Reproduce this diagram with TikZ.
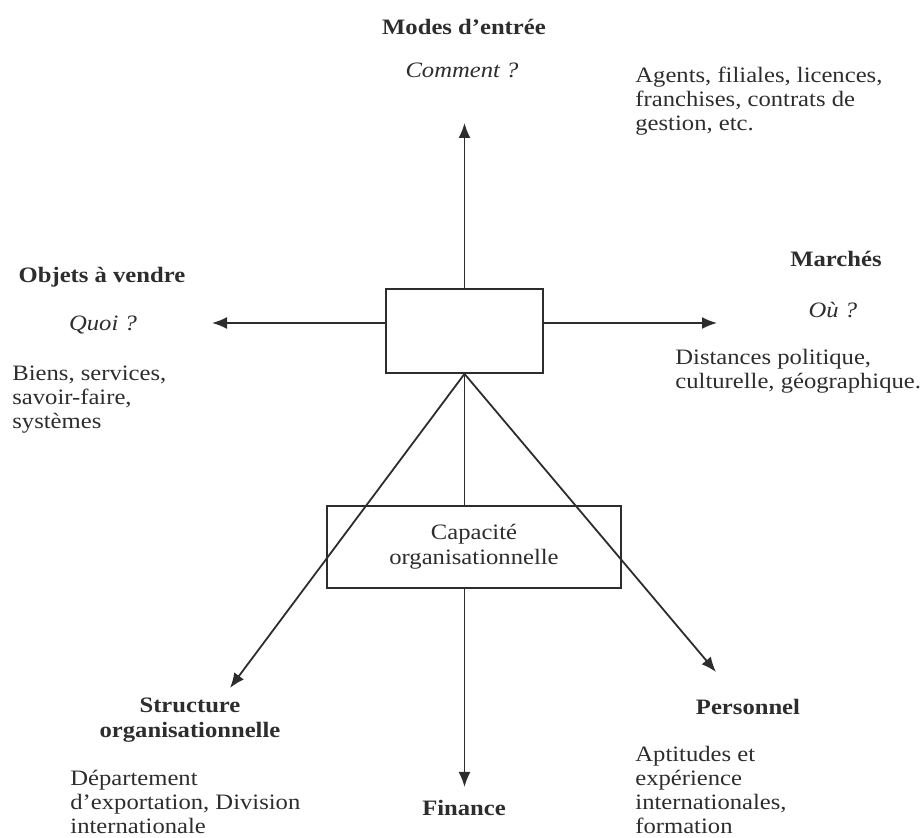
\documentclass[tikz,border=0pt]{standalone}
\usepackage{fontspec}
\setmainfont{Liberation Serif}[FakeStretch=1.12]
\usepackage{tikz}
\usetikzlibrary{arrows.meta}
\tikzstyle{pixelGrid} = [x = .5pt, y = -.5pt]
\definecolor{inkColor}{RGB}{45,45,45}
\tikzstyle{boxStyle} = [draw=inkColor, fill=white, line width=.9pt, inner sep=0pt]
\tikzstyle{arrowStyle} = [draw=inkColor, line width=.9pt, -{Latex[length=7.5pt, width=6pt]}]
\tikzstyle{titleText} = [font=\fontsize{11}{12.5}\selectfont\bfseries, text=inkColor, inner sep=0pt]
\tikzstyle{questionText} = [font=\fontsize{11}{12}\selectfont\itshape, text=inkColor, inner sep=0pt]
\tikzstyle{bodyText} = [font=\fontsize{11}{12}\selectfont, text=inkColor, align=left, anchor=west, inner sep=0pt]
\newcommand{\titleNode}[4]{\node [titleText, align=center] (#1) at (#2,#3) {#4};}
\newcommand{\questionNode}[4]{\node [questionText] (#1) at (#2,#3) {#4};}
\newcommand{\bodyNode}[4]{\node [bodyText] (#1) at (#2,#3) {#4};}

\begin{document}
\begin{tikzpicture}[pixelGrid]
        \useasboundingbox (0,0) rectangle (922,838);

        \node [boxStyle, minimum width=78.5pt, minimum height=42pt] (core) at (464.5,331) {};

        \coordinate (modesTip) at (core.north |- 0,123);
        \coordinate (quoiTip) at (212,323);
        \coordinate (ouTip) at (717,323);
        \coordinate (financeTip) at (core.south |- 0,787);
        \coordinate (structureTip) at (230,688);
        \coordinate (personnelTip) at (716,672);

        \draw [arrowStyle] (core.north) -- (modesTip);
        \draw [arrowStyle] (core.west |- quoiTip) -- (quoiTip);
        \draw [arrowStyle] (core.east |- ouTip) -- (ouTip);
        \draw [arrowStyle] (core.south) -- (financeTip);

        \node [boxStyle, minimum width=147pt, minimum height=41pt, align=center,
          font=\fontsize{11}{12.5}\selectfont, text=inkColor] (capacite) at (474,547)
          {Capacité\\ organisationnelle};

        \draw [arrowStyle] (core.south) -- (structureTip);
        \draw [arrowStyle] (core.south) -- (personnelTip);

        \titleNode{modes}{464}{27}{Modes d’entrée}
        \questionNode{comment}{462}{70}{Comment ?}
        \bodyNode{agents}{635}{101}{Agents, filiales, licences,\\ franchises, contrats de\\ gestion, etc.}

        \titleNode{objets}{102}{277}{Objets à vendre}
        \questionNode{quoi}{103}{325}{Quoi ?}
        \bodyNode{biens}{12}{400}{Biens, services,\\ savoir-faire,\\ systèmes}

        \titleNode{marches}{836}{259}{Marchés}
        \questionNode{ou}{833}{310}{Où ?}
        \bodyNode{distances}{675}{371}{Distances politique,\\ culturelle, géographique.}

        \titleNode{structure}{190}{720}{Structure\\ organisationnelle}
        \bodyNode{departement}{70}{802}{Département\\ d’exportation, Division\\ internationale}

        \titleNode{finance}{464}{808}{Finance}

        \titleNode{personnel}{748}{707}{Personnel}
        \bodyNode{aptitudes}{635}{790}{Aptitudes et\\ expérience\\ internationales,\\ formation}
      \end{tikzpicture}
\end{document}
